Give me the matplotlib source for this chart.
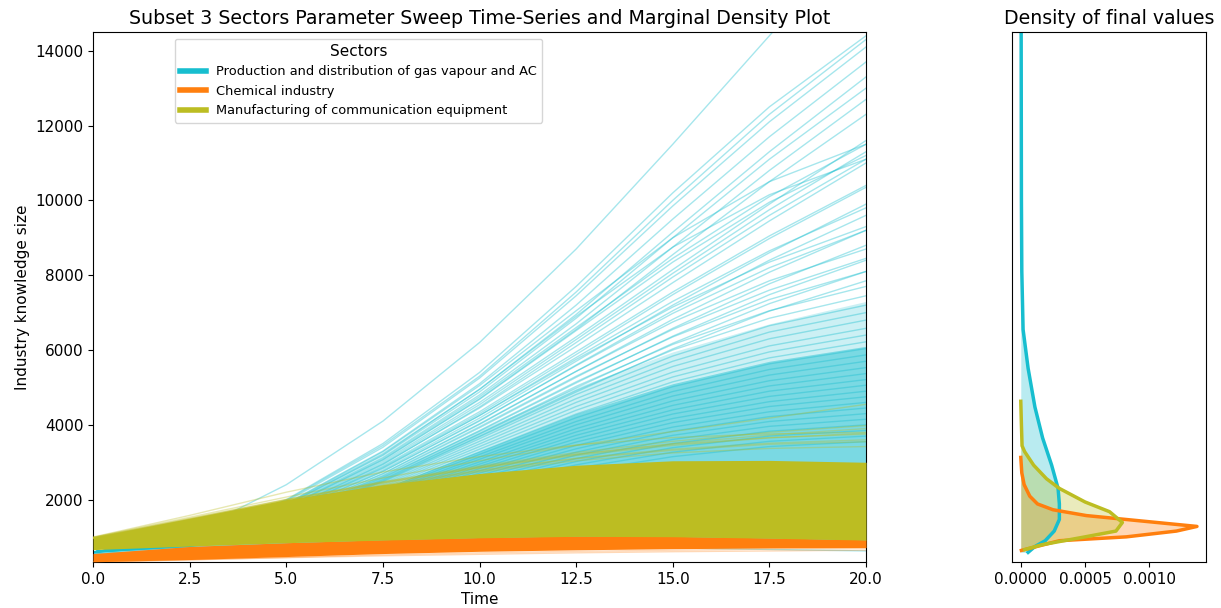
import numpy as np
import matplotlib.pyplot as plt
from matplotlib.lines import Line2D

# time grid shared by all runs
times = [0.0, 2.5, 5.0, 7.5, 10.0, 12.5, 15.0, 17.5, 20.0]

sectors = [
    "Production and distribution of gas vapour and AC",
    "Chemical industry",
    "Manufacturing of communication equipment",
]
sector_colors = ["#17becf", "#ff7f0e", "#bcbd22"]

# gas vapour / AC runs
cyan_runs = [
    [600, 1100, 2400, 4100, 6200, 8700, 11500, 14400, 17300],
    [600, 1020, 2000, 3500, 5400, 7700, 10200, 12500, 14400],
    [600, 1010, 1980, 3450, 5300, 7550, 10000, 12300, 14300],
    [600, 1000, 1950, 3400, 5250, 7450, 9850, 12100, 14100],
    [600, 990, 1900, 3300, 5100, 7200, 9500, 11700, 13700],
    [600, 980, 1870, 3230, 4950, 6950, 9150, 11300, 13300],
    [600, 970, 1850, 3180, 4880, 6850, 9000, 11100, 13000],
    [600, 960, 1820, 3130, 4800, 6700, 8750, 10800, 12700],
    [600, 950, 1790, 3070, 4700, 6550, 8550, 10500, 12300],
    [600, 980, 1880, 3280, 5050, 7050, 9000, 10500, 11500],
    [600, 970, 1850, 3200, 4950, 6900, 8750, 10150, 11100],
    [600, 950, 1800, 3100, 4750, 6600, 8450, 10100, 11500],
    [600, 940, 1780, 3060, 4680, 6520, 8350, 9950, 11200],
    [600, 940, 1760, 3020, 4600, 6350, 8150, 9900, 11600],
    [600, 930, 1740, 2980, 4540, 6280, 8050, 9750, 11300],
    [600, 930, 1720, 2950, 4450, 6100, 7800, 9450, 11000],
    [600, 920, 1720, 2940, 4480, 6200, 7950, 9600, 11100],
    [600, 920, 1700, 2900, 4350, 5950, 7550, 9050, 10400],
    [600, 915, 1690, 2870, 4300, 5880, 7480, 8980, 10350],
    [600, 900, 1650, 2790, 4180, 5700, 7200, 8600, 9900],
    [600, 910, 1670, 2830, 4250, 5800, 7300, 8650, 9800],
    [600, 895, 1630, 2750, 4100, 5600, 7050, 8400, 9600],
    [600, 910, 1680, 2850, 4250, 5750, 7150, 8350, 9300],
    [600, 900, 1640, 2760, 4120, 5580, 6980, 8200, 9200],
    [600, 885, 1600, 2690, 4010, 5430, 6820, 8080, 9200],
    [600, 875, 1570, 2630, 3920, 5270, 6580, 7770, 8800],
    [600, 890, 1610, 2700, 4030, 5430, 6750, 7850, 8700],
    [600, 880, 1580, 2650, 3950, 5300, 6550, 7600, 8450],
    [600, 868, 1545, 2580, 3830, 5120, 6370, 7480, 8400],
    [600, 870, 1550, 2600, 3850, 5150, 6350, 7350, 8100],
    [600, 862, 1520, 2530, 3750, 4990, 6180, 7240, 8100],
    [600, 858, 1500, 2490, 3680, 4880, 6030, 7040, 7850],
    [600, 865, 1530, 2550, 3770, 5030, 6150, 7050, 7700],
    [600, 860, 1510, 2510, 3700, 4920, 6000, 6850, 7450],
    [600, 855, 1490, 2470, 3630, 4810, 5840, 6650, 7200],
    [600, 850, 1470, 2430, 3560, 4700, 5700, 6480, 7000],
    [600, 845, 1450, 2390, 3490, 4600, 5560, 6300, 6800],
    [600, 840, 1430, 2350, 3420, 4490, 5410, 6110, 6580],
    [600, 835, 1410, 2310, 3350, 4390, 5280, 5950, 6400],
    [600, 830, 1390, 2270, 3280, 4290, 5150, 5790, 6220],
    [600, 825, 1370, 2230, 3210, 4190, 5020, 5630, 6040],
    [600, 820, 1350, 2190, 3140, 4090, 4890, 5480, 5870],
    [600, 815, 1330, 2150, 3080, 4000, 4770, 5330, 5700],
    [600, 810, 1310, 2110, 3010, 3900, 4640, 5180, 5530],
    [600, 805, 1295, 2075, 2950, 3810, 4520, 5040, 5370],
    [600, 800, 1280, 2040, 2890, 3720, 4400, 4900, 5210],
    [600, 795, 1265, 2005, 2830, 3630, 4290, 4760, 5060],
    [600, 790, 1250, 1970, 2770, 3540, 4170, 4620, 4900],
    [600, 785, 1235, 1935, 2710, 3450, 4060, 4490, 4750],
    [600, 780, 1220, 1900, 2650, 3360, 3940, 4350, 4600],
    [600, 775, 1205, 1865, 2590, 3270, 3830, 4220, 4450],
    [600, 770, 1190, 1830, 2530, 3190, 3720, 4090, 4300],
    [600, 765, 1175, 1795, 2470, 3100, 3610, 3960, 4150],
    [600, 760, 1160, 1760, 2410, 3020, 3500, 3830, 4000],
    [600, 755, 1140, 1720, 2350, 2930, 3390, 3700, 3850],
    [600, 750, 1120, 1680, 2280, 2840, 3270, 3560, 3700],
    [600, 745, 1100, 1640, 2210, 2740, 3150, 3420, 3550],
    [560, 620, 680, 720, 740, 735, 710, 670, 630],
]
# dense core of the cyan bundle, and the looser zone around it
cyan_core_low = [560, 620, 680, 740, 800, 850, 880, 900, 900]
cyan_core_high = [640, 900, 1450, 2300, 3300, 4300, 5100, 5700, 6100]
cyan_outer_high = [640, 950, 1650, 2650, 3850, 5000, 5950, 6700, 7300]

# chemical industry: solid band plus a few faint runs under it
orange_band_low = [340, 400, 480, 560, 620, 660, 690, 710, 720]
orange_band_high = [560, 750, 850, 930, 990, 1030, 1020, 980, 930]
orange_runs = [
    [335, 390, 450, 500, 540, 580, 610, 630, 650],
    [338, 395, 455, 530, 580, 620, 650, 680, 700],
]

# communication equipment: solid band plus the runs sticking out on top
olive_band_low = [665, 760, 850, 920, 980, 1020, 1010, 970, 920]
olive_band_high = [994, 1500, 2000, 2400, 2700, 2920, 3040, 3050, 3000]
olive_runs = [
    [990, 1500, 2010, 2480, 2900, 3260, 3560, 3800, 3980],
    [980, 1480, 1980, 2440, 2840, 3180, 3450, 3650, 3780],
    [995, 1530, 2070, 2580, 3040, 3450, 3820, 4180, 4550],
    [970, 1460, 1950, 2400, 2790, 3110, 3350, 3510, 3600],
    [960, 1440, 1920, 2360, 2740, 3040, 3250, 3370, 3420],
    [975, 1470, 1990, 2450, 2860, 3210, 3480, 3660, 3750],
    [1000, 1580, 2200, 2740, 3150, 3460, 3660, 3760, 3800],
    [985, 1490, 2000, 2470, 2870, 3220, 3500, 3730, 3900],
    [965, 1450, 1940, 2380, 2770, 3090, 3320, 3480, 3550],
]

# marginal densities of the final values
cyan_kde_levels = [592, 748, 903, 1161, 1472, 1886, 2301, 2922, 3647, 4475,
                   5511, 6547, 8100, 10000, 12000, 14500, 15500]
cyan_kde_density = [0.000057, 0.00011, 0.00019, 0.00026, 0.0003, 0.0003,
                    0.00029, 0.00024, 0.00017, 0.00011, 0.000057, 0.000018,
                    0.000008, 0.000005, 0.000004, 0.000003, 0.000003]
orange_kde_levels = [644, 903, 1006, 1161, 1285, 1420, 1575, 1731, 1886,
                     2093, 2404, 2715, 3129]
orange_kde_density = [0.000005, 0.0003, 0.00082, 0.00121, 0.00137, 0.00097,
                      0.00051, 0.00025, 0.00013, 0.00007, 0.000026, 0.000008,
                      0.0]
olive_kde_levels = [665, 799, 1006, 1161, 1390, 1679, 1938, 2301, 2559, 2922,
                    3284, 3440, 4000, 4630]
olive_kde_density = [0.00003, 0.00017, 0.0005, 0.00074, 0.00079, 0.00069,
                     0.0005, 0.0003, 0.0002, 0.0001, 0.00003, 0.00001,
                     0.000005, 0.0]


fig = plt.figure(figsize=(12.21, 6.08), dpi=100)
ax = fig.add_axes([0.0762, 0.0757, 0.6331, 0.8717])
ax_d = fig.add_axes([0.8288, 0.0757, 0.1589, 0.8717])

c_cyan, c_orange, c_olive = sector_colors

# time series, layered cyan -> orange -> olive
ax.fill_between(times, cyan_core_low, cyan_outer_high, color=c_cyan,
                alpha=0.22, linewidth=0, zorder=1)
ax.fill_between(times, cyan_core_low, cyan_core_high, color=c_cyan,
                alpha=0.45, linewidth=0, zorder=1)
for run in cyan_runs:
    ax.plot(times, run, color=c_cyan, alpha=0.38, linewidth=1.0, zorder=2)

ax.fill_between(times, orange_band_low, orange_band_high, color=c_orange,
                linewidth=0, zorder=3)
for run in orange_runs:
    ax.plot(times, run, color=c_orange, alpha=0.3, linewidth=1.0, zorder=4)

ax.fill_between(times, olive_band_low, olive_band_high, color=c_olive,
                linewidth=0, zorder=5)
for run in olive_runs:
    ax.plot(times, run, color=c_olive, alpha=0.35, linewidth=1.0, zorder=6)

ax.set_xlim(0, 20)
ax.set_ylim(335, 14500)
ax.set_xlabel("Time", fontsize=11)
ax.set_ylabel("Industry knowledge size", fontsize=11)
ax.set_title("Subset 3 Sectors Parameter Sweep Time-Series and Marginal Density Plot",
             fontsize=13.7)
ax.tick_params(labelsize=11)

handles = [Line2D([0], [0], color=c, linewidth=4) for c in sector_colors]
leg = ax.legend(handles, sectors, title="Sectors", loc="upper left",
                bbox_to_anchor=(0.097, 1.0), fontsize=9.4, title_fontsize=11)
leg.set_zorder(10)

# marginal densities
kdes = [
    (cyan_kde_levels, cyan_kde_density, c_cyan),
    (orange_kde_levels, orange_kde_density, c_orange),
    (olive_kde_levels, olive_kde_density, c_olive),
]
for levels, dens, color in kdes:
    ax_d.fill_betweenx(levels, 0, dens, color=color, alpha=0.3, linewidth=0)
    ax_d.plot(dens, levels, color=color, linewidth=2.5)

ax_d.set_ylim(ax.get_ylim())
ax_d.set_xlim(-0.0000685, 0.00144)
ax_d.set_xticks([0.0, 0.0005, 0.0010])
ax_d.set_xticklabels(["0.0000", "0.0005", "0.0010"])
ax_d.set_yticks([])
ax_d.tick_params(labelsize=11)
ax_d.set_title("Density of final values", fontsize=13.6)

fig.savefig("out.png", dpi=100)
